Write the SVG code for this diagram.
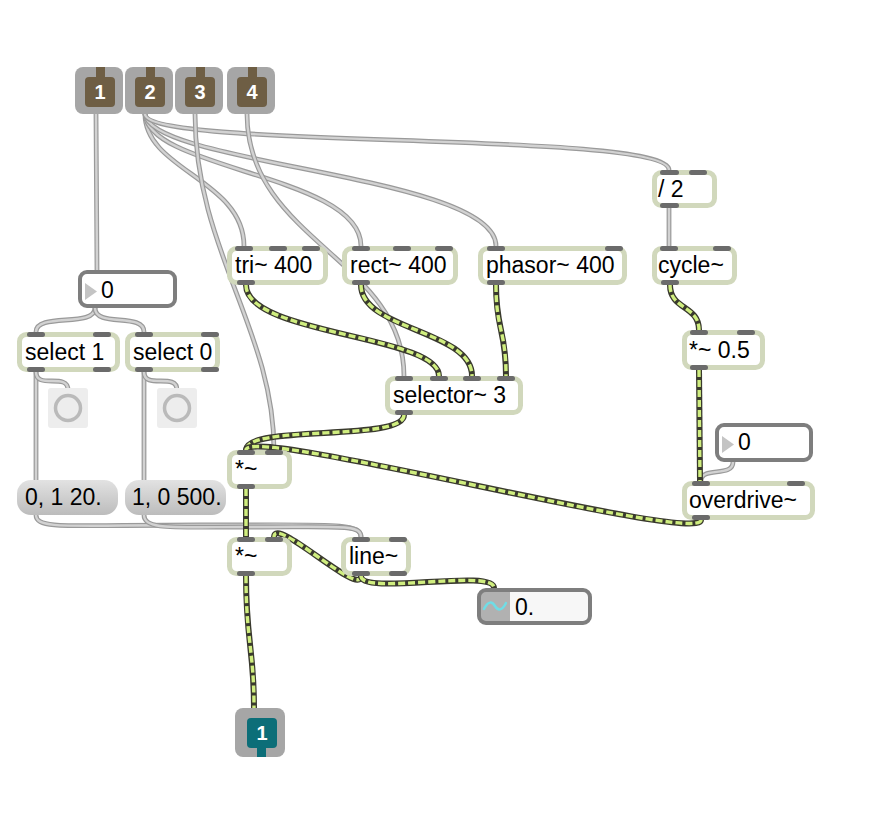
<svg xmlns="http://www.w3.org/2000/svg" xmlns:xlink="http://www.w3.org/1999/xlink" width="873" height="816" viewBox="0 0 873 816">
<style>
.bg{fill:#fff}
.gc1{fill:none;stroke:#9a9a9a;stroke-width:4.8;stroke-linecap:round}
.gc2{fill:none;stroke:#d2d2d2;stroke-width:2.4;stroke-linecap:round}
.sc1{fill:none;stroke:#3a3a2e;stroke-width:6}
.sc2{fill:none;stroke:#d0ee7f;stroke-width:3.4;stroke-dasharray:7 3}
.box{fill:#fff;stroke:#d1d8bc;stroke-width:5}
.pin{fill:#6b6b6b}
.t{font-family:"Liberation Sans",Arial,Helvetica,sans-serif;font-size:23px;fill:#000}
.nb{fill:#fff;stroke:#7e7e7e;stroke-width:4}
.tri{fill:#c4c4c4}
.msg{fill:url(#mg)}
.io{fill:#a6a6a6}
.brown{fill:#6e5e44}
.teal{fill:#0c6e78}
.ionum{font-family:"Liberation Sans",Arial,Helvetica,sans-serif;font-size:20px;font-weight:bold;fill:#fff;text-anchor:middle}
.bangbg{fill:#ededed}
.bangc{fill:none;stroke:#bababa;stroke-width:3.5}
</style>
<defs>
<linearGradient id="mg" x1="0" y1="0" x2="0" y2="1">
<stop offset="0" stop-color="#e2e2e2"/>
<stop offset="1" stop-color="#bcbcbc"/>
</linearGradient>
<path id="g1" d="M96,114 C96,190 97,200 97,270"/>
<path id="g2" d="M145,114 C145,170 244,180 244,246"/>
<path id="g3" d="M145,114 C148,170 361,175 361,246"/>
<path id="g4" d="M145,114 C150,165 496,175 496,246"/>
<path id="g5" d="M145,114 C145,150 669,130 669,170"/>
<path id="g6" d="M195,114 C195,250 274,330 274,450"/>
<path id="g7" d="M247,114 C247,240 404,260 404,376"/>
<path id="g8" d="M669,208 L669,247"/>
<path id="g9" d="M95,308 C95,328 36,312 36,332"/>
<path id="g10" d="M95,308 C95,328 144,312 144,332"/>
<path id="g11" d="M36,372 L36,480"/>
<path id="g12" d="M36,372 C36,390 68,372 68,390"/>
<path id="g13" d="M144,372 L144,480"/>
<path id="g14" d="M144,372 C144,390 177,372 177,390"/>
<path id="g15" d="M36,515 C36,530 70,525 200,525 C330,525 361,522 361,537"/>
<path id="g16" d="M144,515 C144,530 170,527 250,527 C340,527 361,524 361,537"/>
<path id="g17" d="M733,462 C733,478 701,466 701,481"/>
<path id="s1" d="M246,285 C246,335 439,335 439,376"/>
<path id="s2" d="M361,285 C361,330 472,330 472,376"/>
<path id="s3" d="M496,285 C496,330 506,330 506,376"/>
<path id="s4" d="M404,415 C404,442 246,424 246,450"/>
<path id="s5" d="M701,520 C701,545 246,425 246,450"/>
<path id="s6" d="M246,489 L246,537"/>
<path id="s7" d="M361,576 C361,598 274,515 274,537"/>
<path id="s8" d="M361,576 C361,596 494,568 494,588"/>
<path id="s9" d="M246,576 C246,640 254,650 254,708"/>
<path id="s10" d="M670,285 C670,310 699,305 699,330"/>
<path id="s11" d="M699,370 L700,481"/>
</defs>
<rect class="bg" x="0" y="0" width="873" height="816"/>
<g id="connectors">
<use href="#g1" class="gc1"/><use href="#g1" class="gc2"/>
<use href="#g2" class="gc1"/><use href="#g2" class="gc2"/>
<use href="#g3" class="gc1"/><use href="#g3" class="gc2"/>
<use href="#g4" class="gc1"/><use href="#g4" class="gc2"/>
<use href="#g5" class="gc1"/><use href="#g5" class="gc2"/>
<use href="#g6" class="gc1"/><use href="#g6" class="gc2"/>
<use href="#g7" class="gc1"/><use href="#g7" class="gc2"/>
<use href="#g8" class="gc1"/><use href="#g8" class="gc2"/>
<use href="#g9" class="gc1"/><use href="#g9" class="gc2"/>
<use href="#g10" class="gc1"/><use href="#g10" class="gc2"/>
<use href="#g11" class="gc1"/><use href="#g11" class="gc2"/>
<use href="#g12" class="gc1"/><use href="#g12" class="gc2"/>
<use href="#g13" class="gc1"/><use href="#g13" class="gc2"/>
<use href="#g14" class="gc1"/><use href="#g14" class="gc2"/>
<use href="#g15" class="gc1"/><use href="#g15" class="gc2"/>
<use href="#g16" class="gc1"/><use href="#g16" class="gc2"/>
<use href="#g17" class="gc1"/><use href="#g17" class="gc2"/>
<use href="#s1" class="sc1"/><use href="#s1" class="sc2"/>
<use href="#s2" class="sc1"/><use href="#s2" class="sc2"/>
<use href="#s3" class="sc1"/><use href="#s3" class="sc2"/>
<use href="#s4" class="sc1"/><use href="#s4" class="sc2"/>
<use href="#s5" class="sc1"/><use href="#s5" class="sc2"/>
<use href="#s6" class="sc1"/><use href="#s6" class="sc2"/>
<use href="#s7" class="sc1"/><use href="#s7" class="sc2"/>
<use href="#s8" class="sc1"/><use href="#s8" class="sc2"/>
<use href="#s9" class="sc1"/><use href="#s9" class="sc2"/>
<use href="#s10" class="sc1"/><use href="#s10" class="sc2"/>
<use href="#s11" class="sc1"/><use href="#s11" class="sc2"/>
</g>
<g id="in1"><rect class="io" x="75" y="67" width="48" height="47" rx="8"/><rect class="brown" x="96" y="67" width="9" height="12"/><rect class="brown" x="85" y="77" width="30" height="30" rx="4"/><text class="ionum" x="100" y="99">1</text></g>
<g id="in2"><rect class="io" x="125" y="67" width="48" height="47" rx="8"/><rect class="brown" x="146" y="67" width="9" height="12"/><rect class="brown" x="135" y="77" width="30" height="30" rx="4"/><text class="ionum" x="150" y="99">2</text></g>
<g id="in3"><rect class="io" x="175" y="67" width="48" height="47" rx="8"/><rect class="brown" x="196" y="67" width="9" height="12"/><rect class="brown" x="185" y="77" width="30" height="30" rx="4"/><text class="ionum" x="200" y="99">3</text></g>
<g id="in4"><rect class="io" x="227" y="67" width="48" height="47" rx="8"/><rect class="brown" x="248" y="67" width="9" height="12"/><rect class="brown" x="237" y="77" width="30" height="30" rx="4"/><text class="ionum" x="252" y="99">4</text></g>
<g id="div2"><rect class="box" x="654.5" y="172.5" width="60" height="33" rx="7"/><rect class="pin" x="660" y="170" width="19" height="5" rx="2.5"/><rect class="pin" x="689" y="170" width="18" height="5" rx="2.5"/><rect class="pin" x="660" y="203" width="19" height="5" rx="2.5"/><text class="t" x="658" y="197">/ 2</text></g>
<g id="tri"><rect class="box" x="229.5" y="248.5" width="96" height="34" rx="7"/><rect class="pin" x="235" y="246" width="18" height="5" rx="2.5"/><rect class="pin" x="269" y="246" width="18" height="5" rx="2.5"/><rect class="pin" x="302" y="246" width="18" height="5" rx="2.5"/><rect class="pin" x="237" y="280" width="18" height="5" rx="2.5"/><text class="t" x="235" y="273">tri~ 400</text></g>
<g id="rect"><rect class="box" x="344.5" y="248.5" width="111" height="34" rx="7"/><rect class="pin" x="352" y="246" width="18" height="5" rx="2.5"/><rect class="pin" x="393" y="246" width="18" height="5" rx="2.5"/><rect class="pin" x="435" y="246" width="18" height="5" rx="2.5"/><rect class="pin" x="352" y="280" width="18" height="5" rx="2.5"/><text class="t" x="350" y="273">rect~ 400</text></g>
<g id="phasor"><rect class="box" x="480.5" y="248.5" width="144" height="34" rx="7"/><rect class="pin" x="487" y="246" width="18" height="5" rx="2.5"/><rect class="pin" x="605" y="246" width="18" height="5" rx="2.5"/><rect class="pin" x="487" y="280" width="18" height="5" rx="2.5"/><text class="t" x="486" y="273">phasor~ 400</text></g>
<g id="cycle"><rect class="box" x="654.5" y="248.5" width="80" height="34" rx="7"/><rect class="pin" x="660" y="246" width="18" height="5" rx="2.5"/><rect class="pin" x="713" y="246" width="18" height="5" rx="2.5"/><rect class="pin" x="661" y="280" width="18" height="5" rx="2.5"/><text class="t" x="658" y="273">cycle~</text></g>
<g id="mul05"><rect class="box" x="684.5" y="332.5" width="78" height="35" rx="7"/><rect class="pin" x="690" y="330" width="18" height="5" rx="2.5"/><rect class="pin" x="737" y="330" width="18" height="5" rx="2.5"/><rect class="pin" x="690" y="365" width="18" height="5" rx="2.5"/><text class="t" x="689" y="358">*~ 0.5</text></g>
<g id="numL"><rect class="nb" x="80" y="272" width="95" height="34" rx="7"/><polygon class="tri" points="85,283 97,291.5 85,300"/><text class="t" x="101" y="298">0</text></g>
<g id="sel1"><rect class="box" x="19.5" y="334.5" width="98" height="35" rx="7"/><rect class="pin" x="27" y="332" width="18" height="5" rx="2.5"/><rect class="pin" x="93" y="332" width="18" height="5" rx="2.5"/><rect class="pin" x="27" y="367" width="18" height="5" rx="2.5"/><rect class="pin" x="93" y="367" width="18" height="5" rx="2.5"/><text class="t" x="25" y="360">select 1</text></g>
<g id="sel0"><rect class="box" x="127.5" y="334.5" width="90" height="35" rx="7"/><rect class="pin" x="135" y="332" width="18" height="5" rx="2.5"/><rect class="pin" x="201" y="332" width="18" height="5" rx="2.5"/><rect class="pin" x="135" y="367" width="18" height="5" rx="2.5"/><rect class="pin" x="201" y="367" width="18" height="5" rx="2.5"/><text class="t" x="133" y="360">select 0</text></g>
<g id="bang1"><rect class="bangbg" x="48" y="388" width="40" height="40" rx="3"/><circle class="bangc" cx="68" cy="408" r="12.5"/></g>
<g id="bang2"><rect class="bangbg" x="157" y="388" width="40" height="40" rx="3"/><circle class="bangc" cx="177" cy="408" r="12.5"/></g>
<g id="selector"><rect class="box" x="387.5" y="378.5" width="133" height="34" rx="7"/><rect class="pin" x="395" y="376" width="18" height="5" rx="2.5"/><rect class="pin" x="430" y="376" width="18" height="5" rx="2.5"/><rect class="pin" x="463" y="376" width="18" height="5" rx="2.5"/><rect class="pin" x="497" y="376" width="18" height="5" rx="2.5"/><rect class="pin" x="395" y="410" width="18" height="5" rx="2.5"/><text class="t" x="393" y="403">selector~ 3</text></g>
<g id="mulA"><rect class="box" x="229.5" y="452.5" width="60" height="34" rx="7"/><rect class="pin" x="237" y="450" width="18" height="5" rx="2.5"/><rect class="pin" x="265" y="450" width="18" height="5" rx="2.5"/><rect class="pin" x="237" y="484" width="18" height="5" rx="2.5"/><text class="t" x="235" y="477">*~</text></g>
<g id="numR"><rect class="nb" x="717" y="425" width="94" height="35" rx="7"/><polygon class="tri" points="722,436 734,444.5 722,453"/><text class="t" x="738" y="450">0</text></g>
<g id="overdrive"><rect class="box" x="684.5" y="483.5" width="128" height="34" rx="7"/><rect class="pin" x="692" y="481" width="18" height="5" rx="2.5"/><rect class="pin" x="787" y="481" width="18" height="5" rx="2.5"/><rect class="pin" x="692" y="515" width="18" height="5" rx="2.5"/><text class="t" x="689" y="508">overdrive~</text></g>
<g id="msg1"><rect class="msg" x="17" y="480" width="101" height="35" rx="14"/><text class="t" x="25" y="505">0, 1 20.</text></g>
<g id="msg2"><rect class="msg" x="125" y="480" width="101" height="35" rx="14"/><text class="t" x="132" y="505">1, 0 500.</text></g>
<g id="mulB"><rect class="box" x="229.5" y="539.5" width="60" height="34" rx="7"/><rect class="pin" x="237" y="537" width="18" height="5" rx="2.5"/><rect class="pin" x="265" y="537" width="18" height="5" rx="2.5"/><rect class="pin" x="237" y="571" width="18" height="5" rx="2.5"/><text class="t" x="235" y="564">*~</text></g>
<g id="line"><rect class="box" x="343.5" y="539.5" width="65" height="34" rx="7"/><rect class="pin" x="352" y="537" width="18" height="5" rx="2.5"/><rect class="pin" x="389" y="537" width="18" height="5" rx="2.5"/><rect class="pin" x="352" y="571" width="18" height="5" rx="2.5"/><rect class="pin" x="389" y="571" width="18" height="5" rx="2.5"/><text class="t" x="349" y="564">line~</text></g>
<g id="numSig"><rect x="479" y="590" width="111" height="33" rx="7" fill="#f7f7f7"/><path d="M486,590 H510 V623 H486 A7,7 0 0 1 479,616 V597 A7,7 0 0 1 486,590 Z" fill="#b1b1b1"/><rect x="479" y="590" width="111" height="33" rx="7" fill="none" stroke="#7e7e7e" stroke-width="4"/><path d="M484,609 C488,601 492,601 495,606 C498,611 502,611 506,603" fill="none" stroke="#6fdde6" stroke-width="2.5" stroke-linecap="round"/><text class="t" x="515" y="615">0.</text></g>
<g id="out1"><rect class="io" x="235" y="708" width="50" height="49" rx="8"/><rect class="teal" x="247" y="718" width="30" height="30" rx="4"/><rect class="teal" x="257" y="745" width="9" height="12"/><text class="ionum" x="262" y="740">1</text></g>
</svg>
